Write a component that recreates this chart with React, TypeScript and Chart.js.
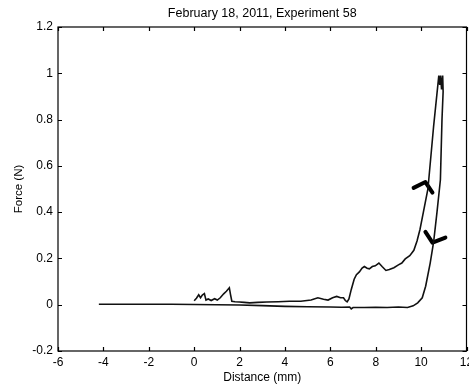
import React, { useEffect, useRef } from "react";
import { Chart, registerables } from "chart.js";

Chart.register(...registerables);

const chartTitle = "February 18, 2011, Experiment 58";
const xTitle = "Distance (mm)";
const yTitle = "Force (N)";

// Loading path (0 mm -> peak), then unloading path back to -4.2 mm
const traceDistance = [
  0.0, 0.1, 0.2, 0.28, 0.36, 0.45, 0.52, 0.62, 0.75, 0.9, 1.02, 1.15, 1.3, 1.42, 1.55, 1.6, 1.66, 1.8, 2.0, 2.2,
  2.45, 2.8, 3.2, 3.7, 4.2, 4.7, 5.15, 5.45, 5.7, 5.9, 6.1, 6.28, 6.45, 6.58, 6.66, 6.74, 6.82, 6.92, 7.05, 7.15,
  7.28, 7.4, 7.5, 7.62, 7.72, 7.85, 7.98, 8.14, 8.28, 8.45, 8.6, 8.8, 9.0, 9.15, 9.3, 9.5, 9.68, 9.82, 9.95, 10.1,
  10.3, 10.55, 10.78, 10.82, 10.86, 10.9, 10.95, 10.97, 10.92, 10.85, 10.7, 10.55, 10.4, 10.2, 10.05, 9.85, 9.65,
  9.4, 9.0, 8.5, 8.0, 7.5, 7.0, 6.92, 6.85, 6.5, 6.0, 5.0, 4.0, 3.0, 2.0, 1.0, 0.0, -1.0, -2.0, -3.0, -4.2,
];
const traceForce = [
  0.017, 0.028, 0.043, 0.03, 0.042, 0.048, 0.02, 0.025, 0.018, 0.026, 0.02, 0.03, 0.047, 0.058, 0.073, 0.045, 0.015,
  0.013, 0.012, 0.01, 0.008, 0.01, 0.012, 0.013, 0.015, 0.015, 0.02, 0.03, 0.024, 0.02, 0.03, 0.036, 0.03, 0.03,
  0.018, 0.012, 0.025, 0.065, 0.11, 0.13, 0.142, 0.158, 0.165, 0.158, 0.155, 0.165, 0.168, 0.18, 0.165, 0.148,
  0.152, 0.16, 0.172, 0.18, 0.198, 0.212, 0.235, 0.275, 0.325, 0.4, 0.5, 0.77, 0.99, 0.95, 0.99, 0.93, 0.99, 0.92,
  0.8, 0.54, 0.4, 0.27, 0.18, 0.08, 0.03, 0.008, -0.005, -0.012, -0.01, -0.012, -0.011, -0.012, -0.012, -0.018,
  -0.01, -0.011, -0.01, -0.009, -0.007, -0.004, -0.001, 0.0, 0.001, 0.002, 0.002, 0.002, 0.002,
];

// Hand-drawn direction chevrons
const upArrowDistance = [9.67, 10.19, 10.5];
const upArrowForce = [0.505, 0.53, 0.484];
const downArrowDistance = [10.19, 10.5, 11.07];
const downArrowForce = [0.315, 0.268, 0.29];

const xMin = -6;
const xMax = 12;
const xStep = 2;
const yMin = -0.2;
const yMax = 1.2;
const yStep = 0.2;

const FONT = "'Liberation Sans', Arial, Helvetica, sans-serif";

const toPoints = (xs: number[], ys: number[]) => xs.map((x, i) => ({ x, y: ys[i] }));

const framePlugin = {
  id: "frame",
  afterDraw(chart: any) {
    const { ctx, chartArea } = chart;
    const { left, right, top, bottom } = chartArea;
    const tick = 4;
    ctx.save();
    ctx.strokeStyle = "#000";
    ctx.lineWidth = 1.2;
    ctx.strokeRect(left, top, right - left, bottom - top);
    ctx.beginPath();
    const xs = chart.scales.x;
    xs.ticks.forEach((t: any) => {
      const px = Math.round(xs.getPixelForValue(t.value)) + 0.5;
      ctx.moveTo(px, bottom);
      ctx.lineTo(px, bottom - tick);
      ctx.moveTo(px, top);
      ctx.lineTo(px, top + tick);
    });
    const ys = chart.scales.y;
    ys.ticks.forEach((t: any) => {
      const py = Math.round(ys.getPixelForValue(t.value)) + 0.5;
      ctx.moveTo(left, py);
      ctx.lineTo(left + tick, py);
      ctx.moveTo(right, py);
      ctx.lineTo(right - tick, py);
    });
    ctx.stroke();
    ctx.restore();
  },
};

export default function App() {
  const ref = useRef<HTMLCanvasElement>(null);

  useEffect(() => {
    if (!ref.current) return;
    const chart = new Chart(ref.current, {
      type: "scatter",
      data: {
        datasets: [
          {
            data: toPoints(traceDistance, traceForce),
            showLine: true,
            borderColor: "#111",
            borderWidth: 1.6,
            pointRadius: 0,
            tension: 0,
          },
          {
            data: toPoints(upArrowDistance, upArrowForce),
            showLine: true,
            borderColor: "#000",
            borderWidth: 4,
            pointRadius: 0,
            borderCapStyle: "round",
            borderJoinStyle: "round",
          },
          {
            data: toPoints(downArrowDistance, downArrowForce),
            showLine: true,
            borderColor: "#000",
            borderWidth: 4,
            pointRadius: 0,
            borderCapStyle: "round",
            borderJoinStyle: "round",
          },
        ],
      },
      options: {
        responsive: false,
        animation: false,
        layout: { padding: { left: 0, right: 13.5, top: 0, bottom: 0 } },
        plugins: {
          legend: { display: false },
          tooltip: { enabled: false },
          title: {
            display: true,
            text: chartTitle,
            fullSize: false,
            color: "#000",
            font: { family: FONT, size: 12.5, weight: "normal" },
            padding: { top: 6.5, bottom: 5.5 },
          },
        },
        scales: {
          x: {
            type: "linear",
            min: xMin,
            max: xMax,
            grid: { display: false, drawTicks: false, tickLength: 0 },
            border: { display: false },
            ticks: {
              stepSize: xStep,
              color: "#000",
              font: { family: FONT, size: 12 },
              padding: 4,
              maxRotation: 0,
              autoSkip: false,
            },
            title: {
              display: true,
              text: xTitle,
              color: "#000",
              font: { family: FONT, size: 12 },
              padding: { top: 0, bottom: 3.8 },
            },
            afterFit(scale: any) {
              scale.height = 38;
            },
          },
          y: {
            type: "linear",
            min: yMin,
            max: yMax,
            grid: { display: false, drawTicks: false, tickLength: 0 },
            border: { display: false },
            ticks: {
              stepSize: yStep,
              color: "#000",
              font: { family: FONT, size: 12 },
              padding: 5,
              autoSkip: false,
              callback: (v: any) => String(Math.round(Number(v) * 10) / 10),
            },
            title: {
              display: true,
              text: yTitle,
              color: "#000",
              font: { family: FONT, size: 11.5 },
              padding: { top: 11.5, bottom: 0 },
            },
            afterFit(scale: any) {
              scale.width = 58;
            },
          },
        },
      },
      plugins: [framePlugin],
    } as any);
    return () => chart.destroy();
  }, []);

  return (
    <div
      style={{
        position: "fixed",
        left: 0,
        top: 0,
        width: 469,
        height: 389,
        overflow: "hidden",
        background: "#fff",
      }}
    >
      <canvas ref={ref} width={480} height={389} style={{ display: "block", width: 480, height: 389 }} />
    </div>
  );
}
